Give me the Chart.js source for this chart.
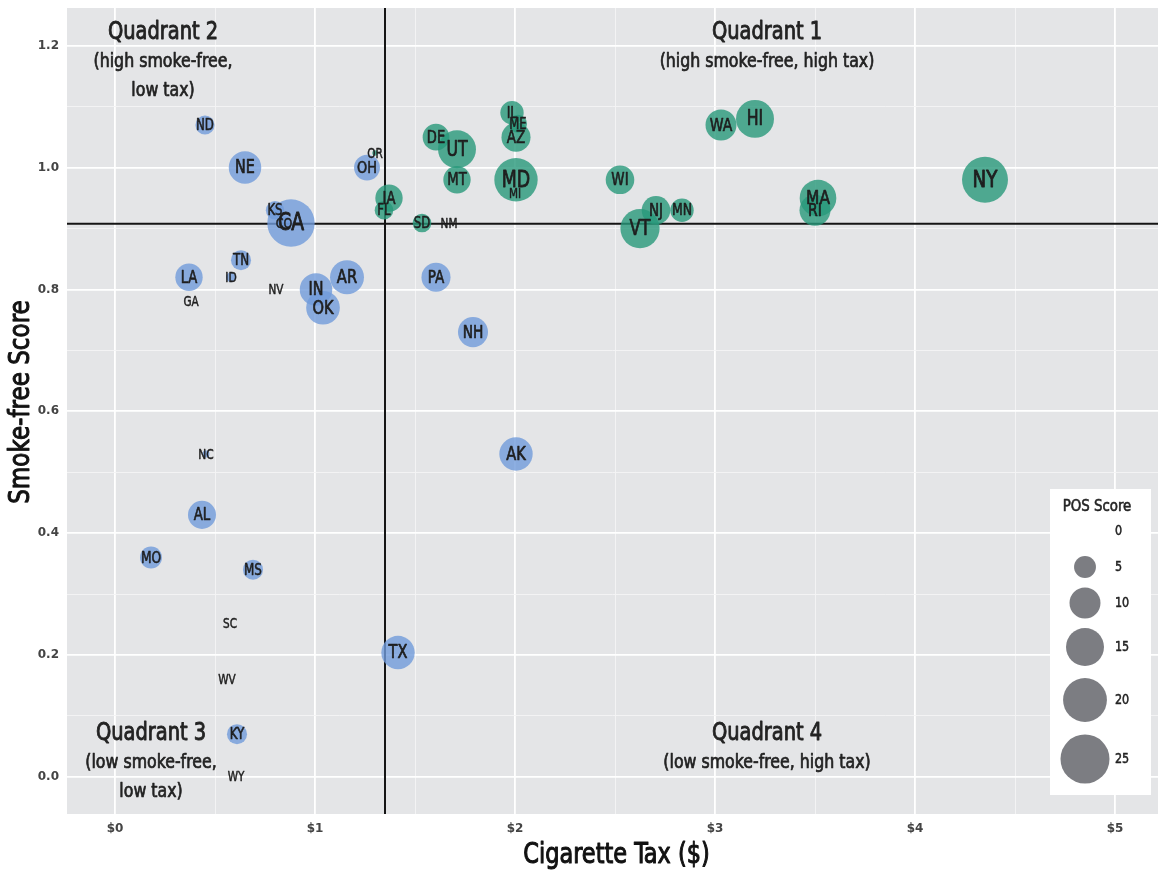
<!DOCTYPE html>
<html>
<head>
  <title>Smoke-free Score vs Cigarette Tax</title>
  <script src="https://cdn.jsdelivr.net/npm/chart.js"></script>
  <style>
    body { margin: 0; background: #fff; }
  </style>
</head>
<body>
  <canvas id="taxChart" width="1158" height="872"></canvas>

  <script>
    // state data
    const states = ['NY','HI','WA','MA','RI','WI','NJ','MN','VT','IL','ME','AZ','MD','MI','DE','UT','MT','IA','FL','SD','NM','OR','OH',
                    'ND','NE','KS','CO','CA','TN','ID','LA','GA','NV','IN','OK','AR','PA','NH','AK','TX','NC','AL','MO','MS','SC','WV','KY','WY'];
    const tax = [4.35, 3.20, 3.03, 3.515, 3.50, 2.525, 2.705, 2.835, 2.625, 1.985, 2.015, 2.005, 2.005, 2.00, 1.605, 1.71, 1.71, 1.37, 1.345, 1.535, 1.67, 1.30, 1.26,
                 0.45, 0.65, 0.80, 0.845, 0.88, 0.63, 0.58, 0.37, 0.38, 0.805, 1.005, 1.04, 1.16, 1.605, 1.79, 2.005, 1.415, 0.455, 0.435, 0.18, 0.69, 0.575, 0.56, 0.61, 0.605];
    const score = [0.98, 1.08, 1.07, 0.95, 0.93, 0.98, 0.93, 0.93, 0.90, 1.09, 1.072, 1.05, 0.98, 0.957, 1.05, 1.03, 0.98, 0.95, 0.93, 0.909, 0.909, 1.024, 1.0,
                   1.07, 1.0, 0.93, 0.909, 0.909, 0.848, 0.82, 0.82, 0.78, 0.80, 0.80, 0.77, 0.82, 0.82, 0.73, 0.53, 0.204, 0.53, 0.43, 0.36, 0.34, 0.252, 0.159, 0.07, 0.0];
    const posScore = [22, 15, 10, 14, 10, 8.5, 8.5, 5.7, 16, 5.7, 3.4, 8.8, 19.6, 0, 7.4, 15, 7.8, 7.8, 3.6, 3.6, 0, 0.3, 7,
                      3.8, 11, 3.5, 2, 23.4, 4.2, 1, 7.8, 0, 0, 11, 11.8, 12, 8.8, 9.4, 11.6, 11.6, 0.5, 8.2, 5, 4.2, 0, 0, 4.2, 0];
    // states coloured as quadrant 1
    const quadrantOne = ['NY','HI','WA','MA','RI','WI','NJ','MN','VT','IL','ME','AZ','MD','MI','DE','UT','MT','IA','FL','SD','NM','OR'];

    const xTicks = [0, 0.5, 1, 1.5, 2, 2.5, 3, 3.5, 4, 4.5, 5];
    const yTicks = [0, 0.1, 0.2, 0.3, 0.4, 0.5, 0.6, 0.7, 0.8, 0.9, 1.0, 1.1, 1.2];
    const legendValues = [0, 5, 10, 15, 20, 25];
    const taxCutoff = 1.35;
    const scoreCutoff = 0.908;

    const narrow = "'Liberation Sans Narrow', 'DejaVu Sans Condensed', 'Roboto', sans-serif";
    const green = 'rgba(40,153,122,0.8)';
    const blue = 'rgba(113,155,219,0.8)';
    const radius = p => 4.9 * Math.sqrt(p);

    const points = states.map((s, i) => ({ x: tax[i], y: score[i], r: radius(posScore[i]) }));
    const colors = states.map(s => quadrantOne.includes(s) ? green : blue);

    const isMajorX = v => Math.abs(v - Math.round(v)) < 1e-6;
    const isMajorY = v => Math.abs(v * 5 - Math.round(v * 5)) < 1e-6;

    const notes = [
      { x: 0.24, y: 1.221, lines: ['Quadrant 2', '(high smoke-free,', 'low tax)'] },
      { x: 3.26, y: 1.221, lines: ['Quadrant 1', '(high smoke-free, high tax)'] },
      { x: 0.18, y: 0.070, lines: ['Quadrant 3', '(low smoke-free,', 'low tax)'] },
      { x: 3.26, y: 0.070, lines: ['Quadrant 4', '(low smoke-free, high tax)'] }
    ];

    // condensed, slightly heavier text (squeezed horizontally, thin outline)
    function heavyText(ctx, text, x, y, size, squeeze, rotate) {
      ctx.save();
      ctx.translate(x, y);
      if (rotate) ctx.rotate(-Math.PI / 2);
      ctx.scale(squeeze, 1);
      ctx.font = size + 'px ' + narrow;
      ctx.lineWidth = size / 28;
      ctx.lineJoin = 'round';
      ctx.strokeStyle = ctx.fillStyle;
      ctx.strokeText(text, 0, 0);
      ctx.fillText(text, 0, 0);
      ctx.restore();
    }

    const panel = {
      id: 'panel',
      beforeDraw(chart) {
        const { ctx, chartArea: a } = chart;
        ctx.save();
        ctx.fillStyle = '#e4e5e7';
        ctx.fillRect(a.left, a.top, a.right - a.left, a.bottom - a.top);
        ctx.restore();
      },
      beforeDatasetsDraw(chart) {
        const { ctx, chartArea: a, scales } = chart;
        const px = scales.x.getPixelForValue(taxCutoff);
        const py = scales.y.getPixelForValue(scoreCutoff);
        ctx.save();
        ctx.strokeStyle = '#151515';
        ctx.lineWidth = 2;
        ctx.beginPath();
        ctx.moveTo(px, a.top); ctx.lineTo(px, a.bottom);
        ctx.moveTo(a.left, py); ctx.lineTo(a.right, py);
        ctx.stroke();

        // quadrant notes
        ctx.fillStyle = '#222';
        ctx.textAlign = 'center';
        ctx.textBaseline = 'middle';
        notes.forEach(n => {
          const cx = scales.x.getPixelForValue(n.x);
          const cy = scales.y.getPixelForValue(n.y);
          n.lines.forEach((t, k) => {
            heavyText(ctx, t, cx, cy + k * 29, k === 0 ? 24 : 19.5, 0.9);
          });
        });
        ctx.restore();
      },
      afterDatasetsDraw(chart) {
        const { ctx } = chart;
        const meta = chart.getDatasetMeta(0);
        ctx.save();
        ctx.fillStyle = '#1e1e1e';
        ctx.textAlign = 'center';
        ctx.textBaseline = 'middle';
        meta.data.forEach((el, i) => {
          heavyText(ctx, states[i], el.x, el.y + 1, 13.5 + 0.46 * posScore[i], 0.86);
        });
        ctx.restore();
      },
      afterDraw(chart) {
        const { ctx, chartArea: a } = chart;
        ctx.save();
        // axis titles
        ctx.fillStyle = '#111';
        ctx.textAlign = 'center';
        ctx.textBaseline = 'middle';
        heavyText(ctx, 'Cigarette Tax ($)', (a.left + a.right) / 2 + 4, 855, 29, 0.86);
        heavyText(ctx, 'Smoke-free Score', 22, (a.top + a.bottom) / 2 - 9, 28.5, 0.9, true);

        // size legend
        ctx.fillStyle = '#fff';
        ctx.fillRect(1050, 489, 101, 306);
        ctx.fillStyle = '#222';
        heavyText(ctx, 'POS Score', 1097, 507, 16.5, 0.9);
        const rows = [531, 567, 603, 647, 700, 759];
        legendValues.forEach((v, k) => {
          if (v > 0) {
            ctx.fillStyle = 'rgba(110,111,116,0.9)';
            ctx.beginPath();
            ctx.arc(1085, rows[k], radius(v), 0, Math.PI * 2);
            ctx.fill();
          }
          ctx.fillStyle = '#222';
          ctx.textAlign = 'left';
          heavyText(ctx, String(v), 1115, rows[k], 13.5, 0.92);
        });
        ctx.restore();
      }
    };

    const ctx = document.getElementById('taxChart').getContext('2d');
    const chart = new Chart(ctx, {
      type: 'bubble',
      data: {
        datasets: [{
          data: points,
          backgroundColor: colors,
          borderWidth: 0,
          hoverRadius: 0
        }]
      },
      options: {
        responsive: false,
        animation: false,
        events: [],
        layout: { autoPadding: false, padding: { top: 8, right: 0, left: 0, bottom: 0 } },
        plugins: { legend: { display: false }, tooltip: { enabled: false } },
        scales: {
          x: {
            type: 'linear',
            min: -0.24,
            max: 5.215,
            afterBuildTicks: s => { s.ticks = xTicks.map(v => ({ value: v })); },
            afterFit: s => { s.height = 58; s.paddingLeft = 0; s.paddingRight = 0; },
            border: { display: false },
            grid: {
              drawTicks: false,
              color: c => isMajorX(c.tick.value) ? '#ffffff' : '#f4f4f5',
              lineWidth: c => isMajorX(c.tick.value) ? 1.8 : 0.9
            },
            ticks: {
              padding: 8,
              autoSkip: false,
              maxRotation: 0,
              color: '#444',
              font: { family: 'DejaVu Sans', size: 12, weight: 'bold' },
              callback: v => isMajorX(v) ? '$' + Math.round(v) : ''
            }
          },
          y: {
            type: 'linear',
            min: -0.061,
            max: 1.262,
            afterBuildTicks: s => { s.ticks = yTicks.map(v => ({ value: v })); },
            afterFit: s => { s.width = 67; s.paddingTop = 0; s.paddingBottom = 0; },
            border: { display: false },
            grid: {
              drawTicks: false,
              color: c => isMajorY(c.tick.value) ? '#ffffff' : '#f4f4f5',
              lineWidth: c => isMajorY(c.tick.value) ? 1.8 : 0.9
            },
            ticks: {
              padding: 8,
              autoSkip: false,
              color: '#444',
              font: { family: 'DejaVu Sans', size: 12, weight: 'bold' },
              callback: v => isMajorY(v) ? v.toFixed(1) : ''
            }
          }
        }
      },
      plugins: [panel]
    });
  </script>
</body>
</html>
